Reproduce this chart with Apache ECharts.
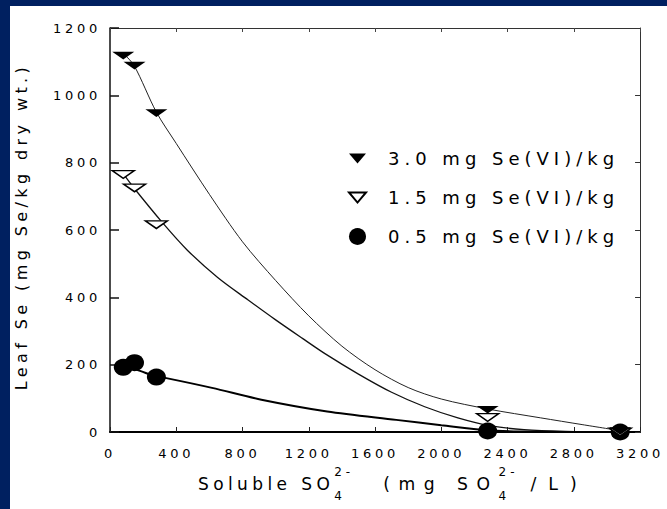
<!DOCTYPE html>
<html>
<head>
<meta charset="utf-8">
<script src="https://cdn.jsdelivr.net/npm/echarts@6/dist/echarts.min.js"></script>
<style>
  html, body { margin: 0; padding: 0; background: #ffffff; }
  #chart { width: 667px; height: 509px; }
</style>
</head>
<body>
<div id="chart"></div>
<script>
// Soluble sulfate in the medium (mg SO4 2-/L) for each treatment
const sulfate = [80, 148, 280, 2280, 3080];

// Measured leaf Se (mg Se/kg dry wt.) at each Se(VI) level
const leafSe30 = [1118, 1088, 947, 66, 3];
const leafSe15 = [765, 725, 616, 43, 0];
const leafSe05 = [192, 206, 163, 3, 0];

// Fitted response curves, sampled along each curve
const fit30X = [80, 146, 280, 400, 600, 800, 1000, 1200, 1400, 1600, 1800, 2000, 2284, 2600, 2850, 3080];
const fit30Y = [1125, 1088, 950, 857, 706, 565, 450, 345, 255, 185, 132, 98, 68, 42, 22, 4];
const fit15X = [83, 146, 318, 467, 650, 834, 1000, 1162, 1300, 1500, 1700, 1900, 2100, 2300, 2500, 2750, 3080];
const fit15Y = [765, 724, 621, 540, 459, 392, 333, 278, 232, 172, 118, 75, 42, 18, 7, 2, 0];
const fit05X = [80, 150, 280, 340, 616, 914, 1311, 1728, 2000, 2275, 2600, 3080];
const fit05Y = [192, 186, 165, 160, 131, 96, 61, 36, 20, 5, 1, 0];

const seriesNames = ['3.0 mg Se(VI)/kg', '1.5 mg Se(VI)/kg', '0.5 mg Se(VI)/kg'];

const FONT = 'DejaVu Sans';
// Wide tracking of the lettering, keyed by font size (px)
const LETTER_SPACING = { '12': 4, '13': 3.7, '16': 4.4, '17': 4.4, '17.2': 8.5, '17.4': 12, '18': 5 };

// Apply the tracking to the SVG text and make ECharts measure with it
(function () {
  const style = document.createElement('style');
  style.textContent = Object.keys(LETTER_SPACING).map(function (s) {
    return '#chart text[style*="' + s + 'px"]{letter-spacing:' + LETTER_SPACING[s] + 'px}';
  }).join('\n');
  document.head.appendChild(style);
  const mctx = document.createElement('canvas').getContext('2d');
  if (echarts.setPlatformAPI) {
    echarts.setPlatformAPI({
      measureText: function (text, font) {
        mctx.font = font || '12px sans-serif';
        const m = /(\d+(?:\.\d+)?)px/.exec(font || '');
        const ls = m ? (LETTER_SPACING[m[1]] || 0) : 0;
        const str = String(text == null ? '' : text);
        return { width: mctx.measureText(str).width + ls * Array.from(str).length };
      }
    });
  }
})();

function pairs(xs, ys) { return xs.map(function (x, i) { return [x, ys[i]]; }); }

const TRI = 'path://M0,0L22,0L11,13Z';

const chart = echarts.init(document.getElementById('chart'), null, { renderer: 'svg' });

const axisText = { fontFamily: FONT, fontSize: 13, color: '#000', formatter: function (v) { return String(v); } };

chart.setOption({
  backgroundColor: '#ffffff',
  animation: false,
  grid: { left: 110, right: 20, top: 28, bottom: 77 },
  xAxis: [{
    type: 'value', min: 0, max: 3200, interval: 400, position: 'bottom',
    axisLine: { show: true, onZero: false, lineStyle: { color: '#000', width: 2 } },
    axisTick: { show: true, inside: true, length: 5, lineStyle: { color: '#222', width: 1 } },
    axisLabel: Object.assign({ margin: 13, showMaxLabel: true, showMinLabel: true }, axisText),
    splitLine: { show: false }
  }, {
    type: 'value', min: 0, max: 3200, interval: 400, position: 'top',
    axisLine: { show: true, onZero: false, lineStyle: { color: '#333', width: 1 } },
    axisTick: { show: true, inside: true, length: 4, lineStyle: { color: '#444', width: 1 } },
    axisLabel: { show: false },
    splitLine: { show: false }
  }],
  yAxis: [{
    type: 'value', min: 0, max: 1200, interval: 200, position: 'left',
    axisLine: { show: true, onZero: false, lineStyle: { color: '#111', width: 1.5 } },
    axisTick: { show: true, inside: true, length: 9, lineStyle: { color: '#111', width: 1.5 } },
    axisLabel: Object.assign({ margin: 9 }, axisText),
    splitLine: { show: false }
  }, {
    type: 'value', min: 0, max: 1200, interval: 200, position: 'right',
    axisLine: { show: true, onZero: false, lineStyle: { color: '#333', width: 1 } },
    axisTick: { show: true, inside: true, length: 5, lineStyle: { color: '#333', width: 1 } },
    axisLabel: { show: false },
    splitLine: { show: false }
  }],
  legend: {
    data: seriesNames,
    orient: 'vertical', left: 348, top: 147, padding: 0,
    itemWidth: 17, itemHeight: 17, itemGap: 16,
    selectedMode: false,
    textStyle: { fontFamily: FONT, fontSize: 18, color: '#000', padding: [0, 0, 0, 17] }
  },
  graphic: [
    { type: 'rect', shape: { x: 0, y: 0, width: 10, height: 509 }, style: { fill: '#002060' }, silent: true },
    { type: 'rect', shape: { x: 0, y: 0, width: 667, height: 6 }, style: { fill: '#002060' }, silent: true },
    {
      type: 'text', x: 21.5, y: 226.5, rotation: Math.PI / 2, silent: true,
      style: { text: 'Leaf Se (mg Se/kg dry wt.)', fontFamily: FONT, fontSize: 16, fill: '#000', align: 'center', verticalAlign: 'middle' }
    },
    {
      type: 'text', x: 198, y: 484, silent: true,
      style: {
        text: '{a|Soluble SO}{b|4}{p|2-}{c|(mg SO}{b|4}{q|2-}{d|/L)}',
        align: 'left', verticalAlign: 'middle',
        rich: {
          a: { fontFamily: FONT, fontSize: 17, fill: '#000', lineHeight: 40, verticalAlign: 'middle' },
          c: { fontFamily: FONT, fontSize: 17.2, fill: '#000', lineHeight: 40, verticalAlign: 'middle' },
          d: { fontFamily: FONT, fontSize: 17.4, fill: '#000', lineHeight: 40, verticalAlign: 'middle' },
          p: { fontFamily: FONT, fontSize: 12, fill: '#000', lineHeight: 10, verticalAlign: 'top', width: 49 },
          q: { fontFamily: FONT, fontSize: 12, fill: '#000', lineHeight: 10, verticalAlign: 'top', width: 32 },
          b: { fontFamily: FONT, fontSize: 12, fill: '#000', lineHeight: 10, verticalAlign: 'bottom', width: 0.001 }
        }
      }
    }
  ],
  series: [
    {
      name: 'fit 3.0', type: 'line', data: pairs(fit30X, fit30Y), showSymbol: false,
      smooth: 0.3, silent: true, z: 2, lineStyle: { color: '#222', width: 1 }
    },
    {
      name: 'fit 1.5', type: 'line', data: pairs(fit15X, fit15Y), showSymbol: false,
      smooth: 0.3, silent: true, z: 2, lineStyle: { color: '#111', width: 1.3 }
    },
    {
      name: 'fit 0.5', type: 'line', data: pairs(fit05X, fit05Y), showSymbol: false,
      smooth: 0.3, silent: true, z: 2, lineStyle: { color: '#000', width: 2 }
    },
    {
      name: seriesNames[2], type: 'scatter', data: pairs(sulfate, leafSe05),
      symbol: 'circle', symbolSize: [19, 17], z: 3,
      itemStyle: { color: '#000', opacity: 1 }
    },
    {
      name: seriesNames[1], type: 'scatter', data: pairs(sulfate, leafSe15),
      symbol: TRI, symbolSize: [22, 13], symbolKeepAspect: true, z: 4,
      itemStyle: { color: '#fff', borderColor: '#000', borderWidth: 1.6, opacity: 1 }
    },
    {
      name: seriesNames[0], type: 'scatter', data: pairs(sulfate, leafSe30),
      symbol: TRI, symbolSize: [22, 13], symbolKeepAspect: true, z: 5,
      itemStyle: { color: '#000', opacity: 1 }
    }
  ]
});
</script>
</body>
</html>
